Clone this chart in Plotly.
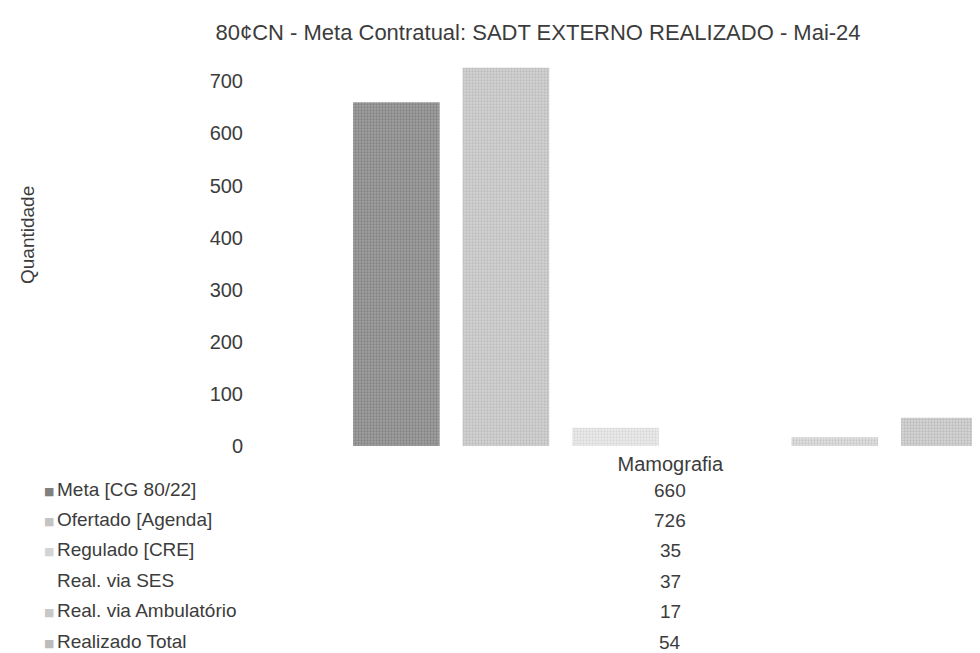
import plotly.graph_objects as go

# data
categoria = ["Mamografia"]
series = [
    "Meta [CG 80/22]",
    "Ofertado [Agenda]",
    "Regulado [CRE]",
    "Real. via SES",
    "Real. via Ambulatório",
    "Realizado Total",
]
valores = [660, 726, 35, 37, 17, 54]
y_ticks = [0, 100, 200, 300, 400, 500, 600, 700]

# grey tones (fg dots / bg) to mimic the dithered print
fg_cores = ["#666666", "#a4a4a4", "#c4c4c4", "#ffffff", "#b0b0b0", "#a0a0a0"]
bg_cores = ["#a0a0a0", "#d4d4d4", "#ececec", "#ffffff", "#e0e0e0", "#d6d6d6"]
marcador = ["#808080", "#c4c4c4", "#d4d4d4", "#ffffff", "#c8c8c8", "#bcbcbc"]

FONT = "Liberation Sans, Arial, sans-serif"
TXT = "#3c3c3c"

W, H = 980, 653
L, R, T, B = 250, 0, 50, 215
plot_h = H - T - B
plot_w = W - L - R

fig = go.Figure()
for nome, v, fg, bg in zip(series, valores, fg_cores, bg_cores):
    fig.add_trace(go.Bar(
        name=nome, x=categoria, y=[v],
        marker=dict(color=bg, line=dict(width=0),
                    pattern=dict(shape=".", fgcolor=fg, bgcolor=bg, size=3, solidity=0.45)),
        showlegend=False,
    ))


def paper_y(py):
    return (H - B - py) / plot_h


def paper_x(px):
    return (px - L) / plot_w


annotations = []
# data table under the chart
row0, pitch = 482, 30.4
for i, (nome, v, cor) in enumerate(zip(series, valores, marcador)):
    py = row0 + i * pitch
    annotations.append(dict(xref="x", yref="paper", x=categoria[0], y=paper_y(py),
                            text=str(v), showarrow=False, xanchor="center", yanchor="middle",
                            font=dict(size=19, color=TXT, family=FONT)))
    annotations.append(dict(xref="paper", yref="paper", x=paper_x(47), y=paper_y(py - 1),
                            text=nome, showarrow=False, xanchor="left", yanchor="middle",
                            font=dict(size=19, color=TXT, family=FONT)))
    annotations.append(dict(xref="paper", yref="paper", x=paper_x(41), y=paper_y(py + 1),
                            text="■", showarrow=False, xanchor="center", yanchor="middle",
                            font=dict(size=11, color=cor, family="DejaVu Sans")))

annotations.append(dict(xref="paper", yref="paper", x=paper_x(19), y=paper_y(227),
                        text="Quantidade", textangle=-90, showarrow=False,
                        xanchor="center", yanchor="middle",
                        font=dict(size=19, color=TXT, family=FONT)))

fig.update_layout(
    width=W, height=H,
    margin=dict(l=L, r=R, t=T, b=B),
    paper_bgcolor="white", plot_bgcolor="white",
    barmode="group", bargap=0, bargroupgap=0.21,
    title=dict(text="80¢CN - Meta Contratual: SADT EXTERNO REALIZADO - Mai-24",
               x=530 / W, xref="container", xanchor="center",
               y=1 - 24 / H, yref="container", yanchor="middle",
               font=dict(size=22, color=TXT, family=FONT)),
    font=dict(family=FONT, color=TXT, size=19),
    xaxis=dict(range=[-0.627, 0.483], showgrid=False, zeroline=False, showline=False,
               ticks="", tickfont=dict(size=20, color=TXT), ticklabelstandoff=4),
    yaxis=dict(range=[0, plot_h / 0.521], tickvals=y_ticks, showgrid=False,
               zeroline=False, showline=False, ticks="",
               tickfont=dict(size=20, color=TXT), ticklabelstandoff=14),
    annotations=annotations,
)

fig.write_html("out.html")
